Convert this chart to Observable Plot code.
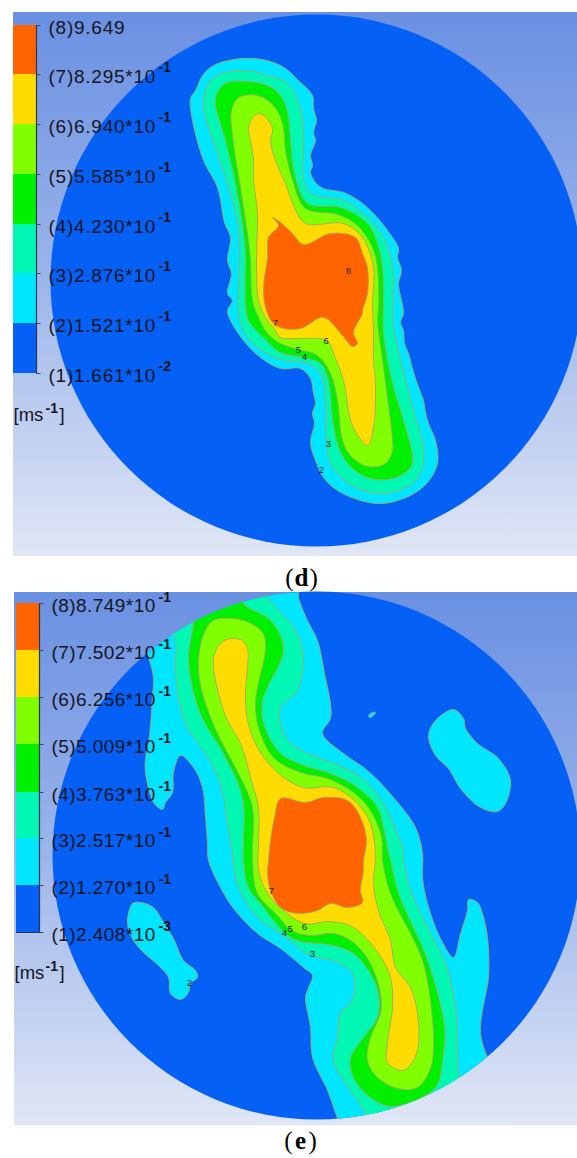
<!DOCTYPE html>
<html><head><meta charset="utf-8">
<script src="https://cdn.jsdelivr.net/npm/d3@7"></script>
<script src="https://cdn.jsdelivr.net/npm/@observablehq/plot@0.6"></script>
<style>
html,body{margin:0;padding:0;background:#fff;overflow:hidden}
</style></head><body><div id="chart"></div>
<script>
// Colours of the eight contour bands, lowest first
const bandColors=["#0560f5","#00e6ff","#00f7b4","#00f000","#80ff00","#ffdc00","#ff6400"];
const contourLine="#a3a86a";

// Panels (picture units)
const panels=[{x1:13,x2:577,y1:12,y2:556,fill:"url(#skyD)"},{x1:14,x2:577,y1:592,y2:1125,fill:"url(#skyE)"}];
const discD={x:316,y:280,r:266}, discE={x:316,y:855,r:264};

// Legend (d)
const dTicks=[25,74,124,174,224,273,323,373];
const dLabels=["(8)9.649","(7)8.295*10","(6)6.940*10","(5)5.585*10","(4)4.230*10","(3)2.876*10","(2)1.521*10","(1)1.661*10"];
const dExps=["","-1","-1","-1","-1","-1","-1","-2"];
// Legend (e)
const eTicks=[603,650,697,744,792,838,885,932];
const eLabels=["(8)8.749*10","(7)7.502*10","(6)6.256*10","(5)5.009*10","(4)3.763*10","(3)2.517*10","(2)1.270*10","(1)2.408*10"];
const eExps=["-1","-1","-1","-1","-1","-1","-1","-3"];
const bandsDesc=[6,5,4,3,2,1,0];

// Contours (d)
const d2=[[190,98],[195,90],[202,75],[213,65],[233,59],[253,58],[270,61],[285,68],[298,80],[312,95],[313,108],[316,120],[313,132],[315,140],[310,155],[312,165],[310,172],[315,182],[323,188],[343,192],[358,200],[373,213],[387,230],[398,248],[397,257],[401,270],[398,283],[401,300],[403,313],[400,322],[403,330],[404,343],[408,353],[412,368],[415,378],[420,392],[423,400],[425,412],[428,423],[435,440],[437,463],[427,482],[410,495],[383,503],[360,500],[337,490],[323,477],[315,460],[310,442],[314,423],[312,413],[315,403],[313,393],[310,378],[300,368],[280,368],[260,357],[243,340],[230,320],[227,310],[232,300],[227,293],[231,273],[227,260],[230,237],[224,222],[217,187],[203,160],[192,120]];
const d3Band=[[203,105],[208,83],[217,75],[242,70],[267,75],[287,83],[298,102],[302,120],[303,153],[302,173],[310,193],[343,200],[367,217],[383,237],[392,267],[392,307],[392,320],[400,360],[413,410],[423,447],[422,467],[413,482],[387,493],[367,491],[347,482],[330,463],[326,443],[325,400],[320,373],[307,363],[280,359],[257,347],[243,330],[238,310],[239,267],[238,227],[228,187],[217,153]];
const d4=[[215,98],[225,83],[245,81],[267,85],[280,95],[287,112],[290,140],[294,173],[307,203],[340,207],[367,223],[377,243],[382,267],[383,303],[383,333],[392,383],[403,420],[412,462],[405,472],[387,479],[367,477],[347,463],[337,443],[332,417],[328,380],[320,363],[303,357],[280,352],[263,337],[248,320],[245,300],[245,260],[244,240],[235,183],[225,140]];
const d5=[[231,110],[238,97],[257,95],[273,105],[282,123],[285,150],[293,183],[305,208],[337,214],[357,225],[372,247],[377,267],[378,307],[377,320],[383,367],[392,440],[392,450],[385,463],[367,466],[350,455],[342,440],[337,400],[330,373],[317,355],[298,349],[280,343],[267,333],[258,317],[252,300],[250,260],[248,240],[240,187],[232,135]];
const d6=[[248,128],[255,114],[262,114],[272,128],[270,140],[275,160],[285,183],[293,205],[305,223],[343,223],[362,237],[373,267],[372,303],[373,330],[373,360],[375,383],[373,427],[367,445],[352,425],[343,380],[335,358],[326,340],[300,338],[280,337],[275,330],[265,317],[258,300],[256,257],[257,213],[253,180],[253,157],[250,140]];
const d7=[[272,217],[280,222],[292,233],[303,244],[330,233],[355,237],[362,253],[367,267],[367,293],[362,310],[362,313],[353,332],[357,343],[352,346],[342,335],[323,317],[300,328],[283,328],[272,322],[265,307],[263,287],[267,257],[268,237],[278,225]];
const dBands=[d2,d3Band,d4,d5,d6,d7];
const dMarks=[["8",348,270],["7",275,322],["6",325.7,340],["5",298,349],["4",304,356.7],["3",328,443],["2",321,469]];

// Contours (e)
const e2=[[148,657],[153,678],[152,695],[149,735],[145,758],[145,772],[153,802],[162,809],[165,802],[172,792],[173,772],[180,755],[193,767],[202,787],[205,817],[207,843],[208,860],[220,887],[233,908],[257,933],[280,948],[303,967],[312,975],[308,987],[305,997],[310,1027],[312,1057],[327,1090],[337,1118],[345,1140],[500,1140],[495,1070],[487,1057],[480,1033],[482,1010],[488,977],[487,937],[482,913],[477,902],[468,899],[467,910],[460,933],[453,957],[440,938],[427,903],[422,877],[422,853],[415,827],[393,797],[367,770],[343,753],[322,733],[330,718],[330,703],[325,678],[317,640],[307,620],[298,597],[297,585],[173,585],[140,640]];
const e2IslandA=[[127,923],[132,903],[140,902],[153,907],[162,920],[173,938],[183,960],[195,970],[197,977],[190,983],[188,992],[180,999],[170,993],[168,977],[158,965],[143,952],[133,940]];
const e2IslandB=[[428,735],[435,720],[453,709],[463,718],[465,728],[477,743],[498,758],[510,780],[505,803],[497,811],[480,807],[460,788],[448,768],[435,755]];
const e2IslandC=[[368,715],[372,712],[375,712],[372,716],[369,717]];
const e3=[[173,635],[175,667],[178,697],[187,727],[205,753],[220,783],[227,823],[232,853],[235,877],[243,897],[257,917],[283,935],[310,955],[333,960],[350,970],[355,987],[350,1003],[340,1013],[337,1037],[333,1060],[350,1090],[365,1113],[370,1140],[470,1140],[458,1073],[457,1047],[455,1007],[445,963],[430,933],[410,890],[403,860],[402,847],[398,837],[383,803],[362,778],[343,767],[307,753],[287,740],[280,723],[280,707],[297,690],[302,650],[293,627],[268,598],[263,585],[173,585],[150,630]];
const e4=[[193,622],[188,657],[192,687],[202,718],[223,753],[242,797],[243,843],[243,860],[248,887],[260,903],[284,932],[297,940],[333,945],[353,953],[368,970],[378,993],[377,1017],[363,1037],[350,1058],[353,1077],[370,1097],[392,1106],[435,1087],[442,1060],[444,1027],[427,960],[398,893],[390,860],[389,857],[383,827],[377,807],[357,787],[330,773],[303,765],[280,753],[263,723],[262,700],[267,687],[283,648],[270,620],[243,603],[243,590],[193,590]];
const e5=[[198,667],[202,637],[213,620],[243,620],[262,632],[265,647],[257,687],[255,703],[258,727],[273,757],[300,772],[327,778],[353,792],[370,810],[381,837],[382,860],[390,893],[422,960],[432,1020],[433,1047],[430,1068],[417,1087],[397,1088],[377,1077],[367,1060],[370,1037],[380,1013],[380,993],[370,963],[353,942],[333,933],[310,935],[291,930],[277,915],[257,893],[252,860],[252,807],[238,773],[217,733],[202,693]];
const e6=[[213,658],[220,643],[230,638],[242,640],[247,648],[247,667],[245,693],[247,720],[257,747],[277,772],[303,787],[333,787],[357,803],[370,823],[375,853],[375,860],[373,883],[378,910],[390,940],[395,967],[410,987],[417,1013],[418,1043],[413,1060],[402,1070],[387,1062],[387,1043],[392,1007],[390,977],[378,953],[353,927],[330,921],[304,923],[283,910],[267,893],[258,870],[258,843],[258,807],[250,777],[240,743],[227,720],[218,693]];
const e7=[[280,798],[305,802],[323,797],[347,800],[360,817],[366,840],[363,860],[363,870],[360,890],[362,902],[347,907],[330,903],[317,910],[297,913],[280,907],[270,890],[267,873],[268,860],[270,840],[274,817]];
const eBands=[e2,e3,e4,e5,e6,e7];
const eIslands=[e2IslandA,e2IslandB,e2IslandC];
const eMarks=[["7",271,890],["6",304,926],["5",290,928],["4",284,932],["3",312,953],["2",189,982]];

// Units and captions
const captionParts=[
  {t:"(",x:293,y:585,w:400,a:"end"},{t:"d",x:301,y:585,w:700,a:"middle"},{t:")",x:309,y:585,w:400,a:"start"},
  {t:"(",x:292,y:1148,w:400,a:"end"},{t:"e",x:300,y:1148,w:700,a:"middle"},{t:")",x:308,y:1148,w:400,a:"start"}
];

const font="Liberation Sans";
const clipToE={render(i,s,v,d,c,next){const g=next(i,s,v,d,c);g.setAttribute("clip-path","url(#discEClip)");return g;}};
const spaced=px=>({render(i,s,v,d,c,next){const g=next(i,s,v,d,c);g.style.letterSpacing=px+"px";return g;}});
const contour=(pts,fill,extra={})=>Plot.line(pts,{x:p=>p[0],y:p=>p[1],curve:"catmull-rom-closed",fill,stroke:contourLine,strokeWidth:.9,...extra});

const defs=(idx,{x,y})=>{
  const ns=d3.create("svg:g");
  const de=ns.append("defs");
  const grad=(id,p)=>{const g=de.append("linearGradient").attr("id",id).attr("gradientUnits","userSpaceOnUse")
    .attr("x1",0).attr("x2",0).attr("y1",y(p.y1)).attr("y2",y(p.y2));
    g.append("stop").attr("offset",0).attr("stop-color","#6a90e2");
    g.append("stop").attr("offset",.5).attr("stop-color","#9db6ea");
    g.append("stop").attr("offset",1).attr("stop-color","#e0e6f6");};
  grad("skyD",panels[0]);grad("skyE",panels[1]);
  de.append("clipPath").attr("id","discEClip").append("circle").attr("cx",x(discE.x)).attr("cy",y(discE.y)).attr("r",discE.r);
  return ns.node();
};

const legend=(ticks,labels,exps,x0,x1,xl,xe,expDy,gap)=>{
  const rows=bandsDesc.map((b,i)=>({y1:ticks[i],y2:ticks[i+1],fill:bandColors[b]}));
  const lab=ticks.map((t,i)=>({y:t,label:labels[i],exp:exps[i]}));
  return [
    Plot.rect(rows,{x1:()=>x0,x2:()=>x1,y1:"y1",y2:"y2",fill:"fill"}),
    Plot.ruleY(ticks,{x1:x1,x2:x1+4.5,stroke:"#3c4a6a",strokeWidth:1}),
    Plot.ruleX([x1],{y1:ticks[0],y2:ticks[7],stroke:"#2a3552",strokeWidth:1.2}),
    Plot.text(lab,{x:()=>xl,y:"y",text:"label",dy:8.5,textAnchor:"start",lineAnchor:"bottom",fontSize:19,fontFamily:font,fill:"#15151f",...spaced(gap)}),
    Plot.text(lab,{x:()=>xe,y:"y",text:"exp",dy:expDy,textAnchor:"start",lineAnchor:"bottom",fontSize:14,fontWeight:600,fontFamily:font,fill:"#15151f"})
  ];
};
const small=(rows)=>Plot.text(rows,{x:r=>r[1],y:r=>r[2],text:r=>r[0],fontSize:9.5,fontFamily:font,fill:"#1c2430"});

const plot=Plot.plot({
  width:577,height:1158,margin:0,
  x:{domain:[0,577],range:[0,577],axis:null},
  y:{domain:[0,1158],range:[0,1158],axis:null},
  style:{background:"#fff"},
  marks:[
    defs,
    Plot.rect(panels,{x1:"x1",x2:"x2",y1:"y1",y2:"y2",fill:"fill"}),
    Plot.dot([discD],{x:"x",y:"y",r:discD.r,fill:bandColors[0],stroke:null}),
    Plot.dot([discE],{x:"x",y:"y",r:discE.r,fill:bandColors[0],stroke:null}),
    ...dBands.map((b,i)=>contour(b,bandColors[i+1])),
    ...eIslands.map(b=>contour(b,bandColors[1])),
    ...eBands.map((b,i)=>contour(b,bandColors[i+1],clipToE)),
    small(dMarks),small(eMarks),
    ...legend(dTicks,dLabels,dExps,13,36,48,158,-2.5,.75),
    Plot.ruleX([16],{y1:eTicks[0],y2:eTicks[7],stroke:"#2a3552",strokeWidth:1}),
    Plot.ruleY([eTicks[0],eTicks[7]],{x1:16,x2:39,stroke:"#2a3552",strokeWidth:1}),
    ...legend(eTicks,eLabels,eExps,16,39,51,158,-1.5,.45),
    Plot.text([{x:13,y:420,t:"[ms"},{x:59,y:420,t:"]"},{x:14,y:978,t:"[ms"},{x:59,y:978,t:"]"}],{x:"x",y:"y",text:"t",textAnchor:"start",lineAnchor:"bottom",fontSize:18.5,fontFamily:font,fill:"#15151f"}),
    Plot.text([{x:45,y:412},{x:45,y:970}],{x:"x",y:"y",text:()=>"-1",textAnchor:"start",lineAnchor:"bottom",fontSize:14,fontWeight:700,fontFamily:font,fill:"#15151f"}),
    ...captionParts.map(c=>Plot.text([c],{x:"x",y:"y",text:"t",textAnchor:c.a,lineAnchor:"bottom",fontSize:25,fontWeight:c.w,fontFamily:"Liberation Serif",fill:"#000"}))
  ]
});
document.getElementById("chart").append(plot);
</script></body></html>
